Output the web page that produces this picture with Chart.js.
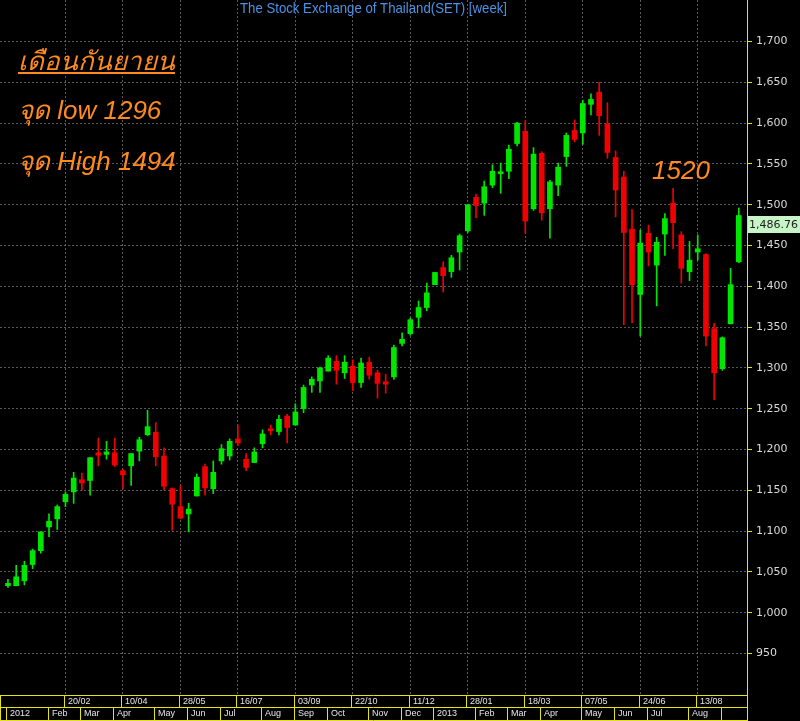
<!DOCTYPE html>
<html>
<head>
<meta charset="utf-8">
<title>SET weekly</title>
<script src="https://cdn.jsdelivr.net/npm/chart.js@4.4.1/dist/chart.umd.min.js"></script>
<style>
    html, body { margin: 0; padding: 0; background: #000; }
    #wrap { width: 800px; height: 721px; }
</style>
</head>
<body>
<div id="wrap"><canvas id="setChart" width="800" height="721"></canvas></div>
<script>
// weekly candles, first week of Jan 2012 .. mid Sep 2013
const opens = [1033, 1033, 1039, 1059, 1076, 1105, 1115, 1136, 1148, 1163,
    1162, 1196, 1194, 1196, 1174, 1180, 1198, 1218, 1221, 1192,
    1152, 1130, 1121, 1143, 1179, 1152, 1186, 1192, 1213, 1188,
    1184, 1207, 1224, 1222, 1241, 1230, 1250, 1279, 1284, 1296,
    1308, 1294, 1302, 1282, 1307, 1294, 1283, 1289, 1330, 1342,
    1362, 1374, 1402, 1423, 1418, 1442, 1468, 1509, 1502, 1524,
    1538, 1541, 1575, 1590, 1495, 1563, 1495, 1524, 1559, 1591,
    1588, 1623, 1638, 1599, 1558, 1534, 1470, 1390, 1465, 1426,
    1464, 1502, 1463, 1418, 1442, 1439, 1348, 1299, 1354, 1430];
const highs = [1041, 1058, 1063, 1078, 1099, 1121, 1132, 1148, 1172, 1171,
    1190, 1214, 1210, 1214, 1176, 1195, 1215, 1248, 1233, 1202,
    1153, 1156, 1134, 1170, 1182, 1186, 1206, 1213, 1230, 1195,
    1202, 1224, 1230, 1242, 1243, 1256, 1279, 1289, 1301, 1315,
    1315, 1315, 1310, 1312, 1313, 1297, 1292, 1328, 1343, 1361,
    1382, 1404, 1417, 1430, 1438, 1464, 1500, 1513, 1529, 1549,
    1551, 1573, 1601, 1603, 1570, 1565, 1530, 1551, 1588, 1604,
    1628, 1636, 1650, 1625, 1566, 1541, 1494, 1469, 1475, 1460,
    1489, 1520, 1467, 1455, 1463, 1440, 1355, 1338, 1422, 1496];
const lows = [1031, 1033, 1034, 1054, 1073, 1093, 1102, 1130, 1134, 1150,
    1144, 1180, 1188, 1179, 1152, 1156, 1186, 1217, 1180, 1150,
    1101, 1115, 1099, 1143, 1144, 1146, 1182, 1187, 1205, 1174,
    1184, 1202, 1218, 1218, 1208, 1230, 1245, 1270, 1270, 1296,
    1280, 1287, 1272, 1276, 1286, 1263, 1269, 1286, 1327, 1340,
    1349, 1370, 1402, 1393, 1411, 1420, 1466, 1484, 1487, 1521,
    1514, 1532, 1572, 1465, 1493, 1481, 1459, 1511, 1547, 1577,
    1574, 1610, 1585, 1557, 1485, 1353, 1355, 1339, 1425, 1376,
    1438, 1446, 1404, 1407, 1432, 1327, 1261, 1297, 1354, 1429];
const closes = [1036, 1044, 1058, 1076, 1099, 1112, 1130, 1145, 1165, 1159,
    1190, 1193, 1197, 1181, 1169, 1195, 1212, 1228, 1191, 1155,
    1133, 1116, 1127, 1166, 1153, 1172, 1201, 1210, 1208, 1178,
    1197, 1219, 1223, 1237, 1227, 1246, 1276, 1286, 1300, 1312,
    1297, 1307, 1282, 1306, 1291, 1281, 1280, 1325, 1335, 1359,
    1374, 1392, 1417, 1413, 1435, 1462, 1500, 1499, 1522, 1541,
    1540, 1568, 1600, 1480, 1562, 1490, 1528, 1546, 1585, 1580,
    1624, 1629, 1609, 1564, 1518, 1466, 1402, 1453, 1442, 1454,
    1483, 1478, 1422, 1432, 1446, 1339, 1294, 1337, 1402, 1486.76];

// axis labels (candle index where each one starts)
const dateIdx = [7, 14, 21, 28, 35, 42, 49, 56, 63, 70, 77, 84];
const dateLabels = ['20/02', '10/04', '28/05', '16/07', '03/09', '22/10',
    '11/12', '28/01', '18/03', '07/05', '24/06', '13/08'];
const monthIdx = [0, 5, 9, 13, 18, 22, 26, 31, 35, 39, 44, 48, 52, 57, 61, 65, 70, 74, 78, 83, 87];
const monthLabels = ['2012', 'Feb', 'Mar', 'Apr', 'May', 'Jun', 'Jul', 'Aug', 'Sep', 'Oct', 'Nov',
    'Dec', '2013', 'Feb', 'Mar', 'Apr', 'May', 'Jun', 'Jul', 'Aug', ''];
const priceTicks = [950, 1000, 1050, 1100, 1150, 1200, 1250, 1300, 1350,
    1400, 1450, 1500, 1550, 1600, 1650, 1700];
const lastPrice = 1486.76;

const titleText = 'The Stock Exchange of Thailand(SET) [week]';
const notes = ['เดือนกันยายน', 'จุด low 1296', 'จุด High 1494'];
const peakNote = '1520';

const UP = '#00e600';
const DOWN = '#f00000';
const GRID = 'rgba(120,120,120,0.75)';
const YELLOW = '#e6e600';
const ORANGE = '#ff8a1e';

const colors = closes.map((c, i) => (c >= opens[i] ? UP : DOWN));

const decor = {
    id: 'decor',
    beforeDraw(chart) {
        const { ctx, width, height } = chart;
        ctx.save();
        ctx.fillStyle = '#000';
        ctx.fillRect(0, 0, width, height);
        ctx.restore();
    },
    afterDraw(chart) {
        const { ctx, chartArea, scales: { x, y } } = chart;
        ctx.save();

        // title, squeezed to look like the narrow original font
        ctx.save();
        ctx.font = '15px "Liberation Sans", Arial, sans-serif';
        ctx.fillStyle = '#4d92e6';
        ctx.textBaseline = 'alphabetic';
        const tw = ctx.measureText(titleText).width;
        ctx.translate(240, 13);
        ctx.scale(267 / tw, 1);
        ctx.fillText(titleText, 0, 0);
        ctx.restore();

        // hand-written notes
        ctx.fillStyle = ORANGE;
        ctx.font = 'italic 26px "Liberation Sans", Tahoma, sans-serif';
        ctx.textBaseline = 'alphabetic';
        ctx.fillText(notes[0], 18, 70);
        ctx.fillText(notes[1], 18, 119);
        ctx.fillText(notes[2], 18, 170);
        ctx.fillText(peakNote, 652, 179);
        const w0 = ctx.measureText(notes[0]).width;
        ctx.fillRect(18, 72, w0, 2);

        // last price tag
        const py = Math.round(y.getPixelForValue(lastPrice));
        ctx.fillStyle = '#c8f5c8';
        ctx.fillRect(chartArea.right + 1, py, 800 - chartArea.right, 17);
        ctx.fillStyle = '#202020';
        ctx.font = '11px "DejaVu Sans", sans-serif';
        ctx.textBaseline = 'middle';
        ctx.fillText(lastPrice.toLocaleString('en-US', { minimumFractionDigits: 2 }), chartArea.right + 2, py + 9);

        // bottom date / month bands
        const top = chartArea.bottom, mid = top + 12, bot = 720;
        ctx.strokeStyle = YELLOW;
        ctx.lineWidth = 1;
        ctx.beginPath();
        [top, mid, bot].forEach(yy => {
            ctx.moveTo(0, yy + 0.5);
            ctx.lineTo(chartArea.right, yy + 0.5);
        });
        ctx.moveTo(0.5, top);
        ctx.lineTo(0.5, bot + 1);
        ctx.moveTo(chartArea.right + 0.5, top);
        ctx.lineTo(chartArea.right + 0.5, bot + 1);
        dateIdx.forEach(i => {
            const px = Math.floor(x.getPixelForValue(i)) - 0.5;
            ctx.moveTo(px, top);
            ctx.lineTo(px, mid);
        });
        monthIdx.forEach(i => {
            const px = Math.floor(x.getPixelForValue(i)) - 0.5;
            ctx.moveTo(px, mid);
            ctx.lineTo(px, bot);
        });
        ctx.stroke();

        ctx.fillStyle = '#e6e6e6';
        ctx.font = '9px "Liberation Sans", Arial, sans-serif';
        ctx.textBaseline = 'middle';
        dateIdx.forEach((i, k) => {
            ctx.fillText(dateLabels[k], Math.floor(x.getPixelForValue(i)) + 3, top + 7);
        });
        monthIdx.forEach((i, k) => {
            ctx.fillText(monthLabels[k], Math.floor(x.getPixelForValue(i)) + 3, mid + 7);
        });

        ctx.restore();
    }
};

new Chart(document.getElementById('setChart'), {
    type: 'bar',
    data: {
        datasets: [
            {
                label: 'range',
                data: lows.map((l, i) => ({ x: i, y: [l, highs[i]] })),
                backgroundColor: colors,
                barThickness: 1,
                grouped: false,
                order: 2
            },
            {
                label: 'body',
                data: opens.map((o, i) => ({ x: i, y: [o, closes[i]] })),
                backgroundColor: colors,
                barThickness: 5,
                minBarLength: 2,
                grouped: false,
                order: 1
            }
        ]
    },
    options: {
        responsive: false,
        animation: false,
        devicePixelRatio: 1,
        layout: { padding: { top: 0, left: 0, right: 0, bottom: 26 } },
        scales: {
            x: {
                type: 'linear',
                offset: false,
                min: -0.97,
                max: 90.0,
                afterBuildTicks: s => { s.ticks = dateIdx.map(v => ({ value: v })); },
                afterFit: s => {
                    s.height = 0;
                    s.paddingLeft = 0;
                    s.paddingRight = 0;
                },
                ticks: { display: false },
                grid: { color: GRID, drawTicks: false, offset: false },
                border: { display: false, dash: [2, 2] }
            },
            y: {
                position: 'right',
                min: 899.1,
                max: 1750.9,
                afterBuildTicks: s => { s.ticks = priceTicks.map(v => ({ value: v })); },
                afterFit: s => {
                    s.width = 53;
                    s.paddingTop = 0;
                    s.paddingBottom = 0;
                },
                ticks: {
                    color: '#d8d8d8',
                    padding: 4,
                    font: { family: '"DejaVu Sans", sans-serif', size: 11 },
                    callback: v => v.toLocaleString('en-US')
                },
                grid: { color: GRID, tickColor: YELLOW, tickLength: 5 },
                border: { display: true, color: YELLOW, dash: [2, 2] }
            }
        },
        plugins: {
            legend: { display: false },
            tooltip: { enabled: false }
        }
    },
    plugins: [decor]
});
</script>
</body>
</html>
